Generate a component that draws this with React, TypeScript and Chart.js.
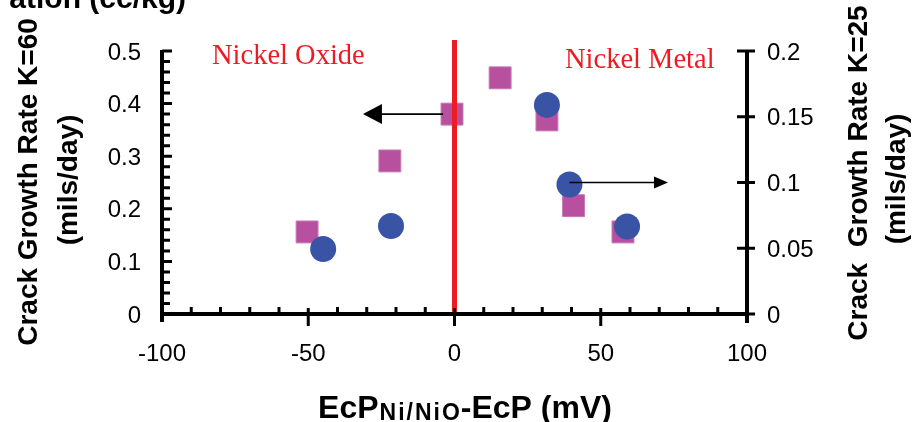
import { useEffect, useRef } from "react";
import { Chart, registerables } from "chart.js";

Chart.register(...registerables);

// Crack growth rate at K=60 (left axis) vs. ECP difference
const potentialK60 = [-50.4, -22.1, -0.85, 15.6, 31.6, 40.7, 57.6];
const rateK60 = [0.156, 0.291, 0.38, 0.449, 0.369, 0.206, 0.156];

// Crack growth rate at K=25 (right axis) vs. ECP difference
const potentialK25 = [-44.9, -21.7, 31.6, 39.3, 59];
const rateK25 = [0.0494, 0.0669, 0.159, 0.0985, 0.0665];

const xTickValues = [-100, -50, 0, 50, 100];
const xTickLabels = ["-100", "-50", "0", "50", "100"];
const leftTickValues = [0, 0.1, 0.2, 0.3, 0.4, 0.5];
const leftTickLabels = ["0", "0.1", "0.2", "0.3", "0.4", "0.5"];
const rightTickValues = [0, 0.05, 0.1, 0.15, 0.2];
const rightTickLabels = ["0", "0.05", "0.1", "0.15", "0.2"];

// Arrows pointing each series to its axis
const oxideArrow = { from: -3.9, to: -31.3, y: 0.38 }; // left-axis units
const metalArrow = { from: 39.3, to: 73, y: 0.1 }; // right-axis units

const RED = "#ED1C24";
const SQUARE = "#B7519F";
const CIRCLE = "#3A54A5";
const SANS = '"Liberation Sans", Arial, sans-serif';
const SERIF = '"Liberation Serif", "Times New Roman", serif';

function arrow(ctx: CanvasRenderingContext2D, x1: number, x2: number, y: number, len: number, half: number) {
  const dir = Math.sign(x2 - x1);
  ctx.strokeStyle = "#000";
  ctx.lineWidth = 1.6;
  ctx.beginPath();
  ctx.moveTo(x1, y);
  ctx.lineTo(x2 - dir * len * 0.8, y);
  ctx.stroke();
  ctx.fillStyle = "#000";
  ctx.beginPath();
  ctx.moveTo(x2, y);
  ctx.lineTo(x2 - dir * len, y - half);
  ctx.lineTo(x2 - dir * len, y + half);
  ctx.closePath();
  ctx.fill();
}

function vText(ctx: CanvasRenderingContext2D, text: string, baselineX: number, centerY: number) {
  ctx.save();
  ctx.translate(baselineX, centerY);
  ctx.rotate(-Math.PI / 2);
  ctx.textAlign = "center";
  ctx.textBaseline = "alphabetic";
  ctx.fillText(text, 0, 0);
  ctx.restore();
}

const decorPlugin = {
  id: "crackDecor",
  afterDatasetsDraw(chart: any) {
    const { ctx, scales } = chart;
    const xs = scales.x;
    const yl = scales.y;
    const yr = scales.y2;
    const left = xs.getPixelForValue(-100);
    const right = xs.getPixelForValue(100);
    const bottom = yl.getPixelForValue(0);
    const topL = yl.getPixelForValue(0.5);
    const topR = yr.getPixelForValue(0.2);
    ctx.save();

    // oxide / metal boundary at 0 mV
    const x0 = xs.getPixelForValue(0);
    ctx.fillStyle = RED;
    ctx.fillRect(x0 - 2.5, topL - 11, 5, bottom - topL + 11);

    // region labels
    ctx.font = `28.5px ${SERIF}`;
    ctx.textAlign = "left";
    ctx.textBaseline = "alphabetic";
    ctx.fillText("Nickel Oxide", 212, 64);
    ctx.fillText("Nickel Metal", 565, 68);

    // direction arrows
    arrow(ctx, xs.getPixelForValue(oxideArrow.from), xs.getPixelForValue(oxideArrow.to), yl.getPixelForValue(oxideArrow.y), 19, 10);
    arrow(ctx, xs.getPixelForValue(metalArrow.from), xs.getPixelForValue(metalArrow.to), yr.getPixelForValue(metalArrow.y), 14, 6);

    ctx.strokeStyle = "#000";
    ctx.lineCap = "butt";

    // axis lines
    ctx.lineWidth = 4;
    ctx.beginPath();
    ctx.moveTo(left, topL - 1);
    ctx.lineTo(left, bottom + 8);
    ctx.moveTo(left, bottom);
    ctx.lineTo(right, bottom);
    ctx.moveTo(right, topR - 1);
    ctx.lineTo(right, bottom + 9);
    ctx.stroke();

    ctx.lineWidth = 3;
    ctx.beginPath();
    // left axis: inward ticks every 0.02
    for (let i = 0; i <= 25; i++) {
      const py = yl.getPixelForValue(i * 0.02);
      ctx.moveTo(left, py);
      ctx.lineTo(left + (i % 5 === 0 ? 10 : 8), py);
    }
    // x axis: minor ticks inward every 10, major ticks crossing every 50
    for (let v = -90; v < 100; v += 10) {
      const px = xs.getPixelForValue(v);
      if (v % 50 === 0) {
        ctx.moveTo(px, bottom - 6);
        ctx.lineTo(px, bottom + 12);
      } else {
        ctx.moveTo(px, bottom);
        ctx.lineTo(px, bottom - 7);
      }
    }
    // right axis: crossing ticks
    for (const v of rightTickValues) {
      const py = yr.getPixelForValue(v);
      ctx.moveTo(right - 10, py);
      ctx.lineTo(right + 8, py);
    }
    ctx.stroke();

    // tick labels
    ctx.fillStyle = "#000";
    ctx.font = `24px ${SANS}`;
    ctx.textBaseline = "alphabetic";
    ctx.textAlign = "right";
    leftTickValues.forEach((v, i) => ctx.fillText(leftTickLabels[i], 141, yl.getPixelForValue(v) + 8.6));
    ctx.textAlign = "left";
    rightTickValues.forEach((v, i) => ctx.fillText(rightTickLabels[i], 767, yr.getPixelForValue(v) + 8.6));
    ctx.textAlign = "center";
    xTickValues.forEach((v, i) => ctx.fillText(xTickLabels[i], xs.getPixelForValue(v), 361));

    // axis titles
    ctx.font = `bold 28px ${SANS}`;
    vText(ctx, "Crack Growth Rate K=60", 37, 182);
    vText(ctx, "(mils/day)", 77, 180);
    vText(ctx, "Crack  Growth Rate K=25", 867, 173);
    vText(ctx, "(mils/day)", 905, 179);

    // heading fragment at the top edge
    ctx.textAlign = "right";
    ctx.font = `bold 30px ${SANS}`;
    ctx.fillText("ation (cc/kg)", 186, 8);

    // x title with subscript
    const main1 = "EcP";
    const sub = "Ni/NiO";
    const main2 = "-EcP (mV)";
    ctx.textAlign = "left";
    ctx.font = `bold 32px ${SANS}`;
    const w1 = ctx.measureText(main1).width;
    const w3 = ctx.measureText(main2).width;
    ctx.font = `bold 23px ${SANS}`;
    (ctx as any).letterSpacing = "2px";
    const w2 = ctx.measureText(sub).width;
    (ctx as any).letterSpacing = "0px";
    const start = 465 - (w1 + w2 + w3) / 2;
    ctx.font = `bold 32px ${SANS}`;
    ctx.fillText(main1, start, 418);
    ctx.fillText(main2, start + w1 + w2, 418);
    ctx.font = `bold 23px ${SANS}`;
    (ctx as any).letterSpacing = "2px";
    ctx.fillText(sub, start + w1 + 1, 420);
    (ctx as any).letterSpacing = "0px";

    ctx.restore();
  },
};

export default function App() {
  const canvasRef = useRef<HTMLCanvasElement | null>(null);

  useEffect(() => {
    const canvas = canvasRef.current;
    if (!canvas) return;
    const chart = new Chart(canvas, {
      type: "scatter",
      data: {
        datasets: [
          {
            label: "K=25",
            data: potentialK25.map((x, i) => ({ x, y: rateK25[i] })),
            yAxisID: "y2",
            pointStyle: "circle",
            pointRadius: 13,
            backgroundColor: CIRCLE,
            borderColor: CIRCLE,
            borderWidth: 0,
            order: 0,
            clip: false,
          },
          {
            label: "K=60",
            data: potentialK60.map((x, i) => ({ x, y: rateK60[i] })),
            yAxisID: "y",
            pointStyle: "rect",
            pointRadius: 15.5,
            backgroundColor: SQUARE,
            borderColor: "#C679B4",
            borderWidth: 1,
            order: 1,
            clip: false,
          },
        ],
      },
      options: {
        responsive: false,
        maintainAspectRatio: false,
        devicePixelRatio: 1,
        animation: false,
        events: [],
        layout: { padding: { left: 162, right: 167, top: 51, bottom: 108 } },
        scales: {
          x: { type: "linear", min: -100, max: 100, display: false },
          y: { type: "linear", position: "left", min: 0, max: 0.5, display: false },
          y2: { type: "linear", position: "right", min: 0, max: 0.2, display: false },
        },
        plugins: { legend: { display: false }, tooltip: { enabled: false } },
      },
      plugins: [decorPlugin],
    });
    return () => chart.destroy();
  }, []);

  return (
    <canvas
      ref={canvasRef}
      width={914}
      height={422}
      style={{ position: "absolute", left: 0, top: 0, width: 914, height: 422, background: "#fff" }}
    />
  );
}
